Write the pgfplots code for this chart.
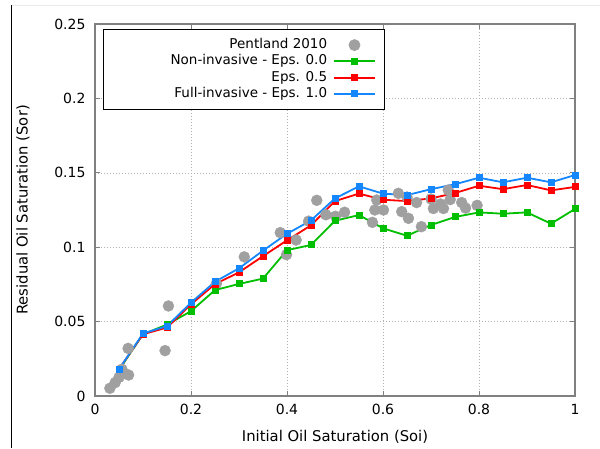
\documentclass[border=0pt]{standalone}
\usepackage{fontspec}
\setmainfont{DejaVu Sans}
\usepackage{pgfplots}
\pgfplotsset{compat=1.18}
\definecolor{pgray}{RGB}{160,160,160}
\definecolor{pgreen}{RGB}{0,190,0}
\definecolor{pred}{RGB}{255,0,0}
\definecolor{pblue}{RGB}{20,135,255}
\definecolor{frame}{RGB}{128,128,128}
\begin{document}
\begin{tikzpicture}[font=\fontsize{13.5}{16}\selectfont]
\useasboundingbox (0pt,0pt) rectangle (600pt,448pt);
\draw[black, line width=1pt] (11.5pt,0pt) -- (11.5pt,443pt);
\draw[black!8, line width=0.8pt] (11.5pt,443pt) -- (600pt,443pt);
\begin{axis}[
  at={(95pt,52pt)}, anchor=south west,
  scale only axis, width=480pt, height=372pt,
  font=\fontsize{13.5}{16}\selectfont,
  xmin=0, xmax=1, ymin=0, ymax=0.25,
  xtick={0,0.2,0.4,0.6,0.8,1},
  xticklabels={0,0.2,0.4,0.6,0.8,1},
  ytick={0,0.05,0.1,0.15,0.2,0.25},
  yticklabels={0,0.05,0.1,0.15,0.2,0.25},
  scaled ticks=false,
  tick align=inside,
  major tick length=5pt,
  tick style={frame, line width=0.8pt},
  axis line style={frame, line width=1.3pt},
  grid=major,
  grid style={gray!60, line width=0.6pt, dash pattern=on 1pt off 2pt},
  tick label style={font=\fontsize{14}{16}\selectfont},
  xticklabel style={yshift=-5pt},
  yticklabel style={xshift=-6pt},
  xlabel={Initial Oil Saturation (Soi)},
  ylabel={Residual Oil Saturation (Sor)},
  label style={font=\fontsize{14.8}{17}\selectfont},
  xlabel style={at={(axis description cs:0.5,-0.1094)}, anchor=center},
  ylabel style={at={(axis description cs:-0.15,0.5)}, anchor=center},
  legend plot pos=right,
  legend cell align=right,
  legend style={at={(0.0175,0.987)}, anchor=north west, draw=black, line width=0.8pt,
    inner xsep=8.8pt, inner ysep=7.7pt, column sep=4pt,
    nodes={inner ysep=1.65pt, text height=10pt, text depth=3pt}},
  legend image code/.code={\draw[mark repeat=2, mark phase=2, #1] plot coordinates {(0pt,0pt) (20.5pt,0pt) (41pt,0pt)};},
]
\addplot[only marks, mark=*, mark size=5.5pt, color=pgray] coordinates {
(0.031,0.0052) (0.042,0.0090) (0.050,0.0125) (0.056,0.018) (0.061,0.0152)
(0.070,0.0141) (0.069,0.032) (0.146,0.0305) (0.153,0.0605) (0.253,0.0756)
(0.311,0.0935) (0.386,0.1098) (0.399,0.0950) (0.419,0.1048) (0.445,0.1175)
(0.462,0.1315) (0.481,0.1218) (0.501,0.1208) (0.520,0.1235) (0.578,0.1167)
(0.583,0.1250) (0.587,0.1317) (0.601,0.1250) (0.632,0.1362) (0.639,0.1239)
(0.650,0.1337) (0.653,0.1194) (0.670,0.1300) (0.680,0.1138) (0.700,0.1324)
(0.705,0.1260) (0.720,0.1290) (0.726,0.1260) (0.736,0.1384) (0.740,0.1320)
(0.764,0.1300) (0.772,0.1263) (0.796,0.1281)
};
\addlegendentry{Pentland 2010}
\addplot[color=pgreen, line width=1.8pt, mark=square*, mark size=2.6pt] coordinates {
(0.05,0.0175) (0.10,0.0415) (0.15,0.048) (0.20,0.057) (0.25,0.0712)
(0.30,0.0753) (0.35,0.0789) (0.40,0.098) (0.45,0.1015) (0.50,0.1178)
(0.55,0.1216) (0.60,0.1127) (0.65,0.1077) (0.70,0.1149) (0.75,0.1203)
(0.80,0.1234) (0.85,0.1225) (0.90,0.1234) (0.95,0.1158) (1.00,0.1257)
};
\addlegendentry{\hspace*{56pt}Non-invasive - Eps. 0.0}
\addplot[color=pred, line width=1.8pt, mark=square*, mark size=2.6pt] coordinates {
(0.05,0.018) (0.10,0.0415) (0.15,0.046) (0.20,0.0616) (0.25,0.0752)
(0.30,0.0831) (0.35,0.094) (0.40,0.1046) (0.45,0.1147) (0.50,0.1310)
(0.55,0.1360) (0.60,0.1319) (0.65,0.1310) (0.70,0.1328) (0.75,0.1364)
(0.80,0.1413) (0.85,0.1390) (0.90,0.1418) (0.95,0.1382) (1.00,0.1405)
};
\addlegendentry{Eps. 0.5}
\addplot[color=pblue, line width=1.8pt, mark=square*, mark size=2.6pt] coordinates {
(0.05,0.018) (0.10,0.042) (0.15,0.047) (0.20,0.0627) (0.25,0.0768)
(0.30,0.0858) (0.35,0.0977) (0.40,0.109) (0.45,0.118) (0.50,0.1328)
(0.55,0.1409) (0.60,0.1360) (0.65,0.1350) (0.70,0.1390) (0.75,0.1423)
(0.80,0.1467) (0.85,0.1436) (0.90,0.1467) (0.95,0.1436) (1.00,0.1485)
};
\addlegendentry{Full-invasive - Eps. 1.0}
\end{axis}
\end{tikzpicture}
\end{document}
